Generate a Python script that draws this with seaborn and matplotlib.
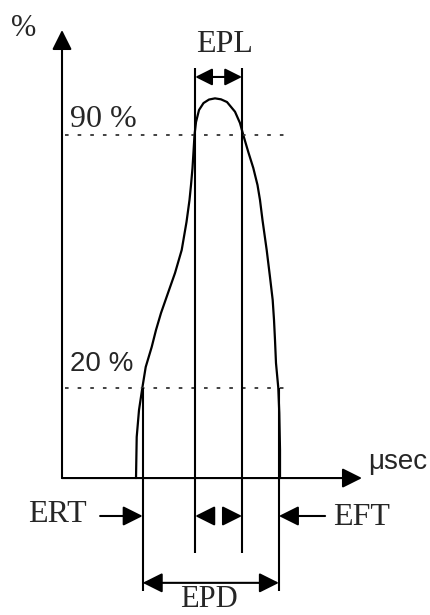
import matplotlib
matplotlib.use("Agg")
import matplotlib.pyplot as plt
import seaborn as sns
import pandas as pd

# pulse shape: time (arbitrary usec units) and amplitude (%)
t_us = [24.67, 24.90, 25.67, 26.77, 27.90, 29.90, 31.33, 33.00, 35.33, 37.67,
        39.90, 41.50, 42.50, 43.00, 43.50, 43.83, 44.17, 44.67, 45.67, 47.17,
        49.00, 51.00, 53.00, 55.00, 57.67, 59.33, 60.43, 62.10, 63.77, 65.17,
        66.00, 66.83, 68.23, 69.33, 70.23, 70.67, 71.00, 71.33, 72.10, 72.43,
        72.67, 72.67]
amp = [-5, 6.36, 13.84, 19.92, 25.73, 31.27, 35.97, 40.67, 46.21, 51.74,
       58.11, 65.86, 71.94, 76.09, 80.80, 85.22, 89.93, 93.52, 96.85, 98.78,
       99.75, 100.08, 99.81, 99.06, 96.38, 93.25, 89.93, 85.22, 80.80, 76.09,
       71.94, 66.41, 58.11, 50.64, 44.27, 38.74, 33.20, 26.84, 19.92, 13.00,
       2.77, -5]

levels = [20, 90]
level_labels = ["20 %", "90 %"]

# threshold crossing times
t20_rise, t90_rise, t90_fall, t20_fall = 26.9, 44.4, 60.0, 72.3

base = -5          # where the time axis sits
t_end = 100        # time axis arrow tip
a_top = 119        # amplitude axis arrow tip

df = pd.DataFrame({"t": t_us, "amp": amp})

sns.set_style("white")
fig = plt.figure(figsize=(4.3, 6.15), dpi=100)
ax = fig.add_axes([0, 0, 1, 1])

lw = 1.5
serif = "Liberation Serif"
sans = "Liberation Sans"
arr = dict(arrowstyle="-|>", mutation_scale=30, lw=lw, color="black",
           shrinkA=0, shrinkB=0)

# axes with arrows
ax.annotate("", xy=(0, a_top), xytext=(0, base), arrowprops=arr)
ax.annotate("", xy=(t_end, base), xytext=(0, base), arrowprops=arr)

# pulse
sns.lineplot(data=df, x="t", y="amp", sort=False, estimator=None, color="black",
             lw=1.6, ax=ax)
ax.set_xlim(-20.67, 122.67)
ax.set_ylim(-42.9, 127.3)
ax.axis("off")

# 20 % and 90 % levels
ax.hlines(levels, 1, 76.7, colors="#333333", linestyles=(0, (2, 5)), lw=1.3)
for lv, lab in zip(levels, level_labels):
    if lv == 90:
        ax.text(2.7, lv + 4.3, lab, fontsize=23, family=serif, va="center", ha="left")
    else:
        ax.text(2.7, lv + 6.5, lab, fontsize=20, family=sans, va="center", ha="left")

# marker lines
ax.vlines([t20_rise, t20_fall], -36.3, 20, colors="black", lw=lw)
ax.vlines([t90_rise, t90_fall], -25.7, 108.5, colors="black", lw=lw)

row = -15.5
# ERT / EFT
ax.annotate("", xy=(t20_rise, row), xytext=(12.7, row), arrowprops=arr)
ax.annotate("", xy=(t20_fall, row), xytext=(87.7, row), arrowprops=arr)
# small heads between EPL lines
ax.annotate("", xy=(t90_rise, row), xytext=(t90_rise + 5.3, row), arrowprops=arr)
ax.annotate("", xy=(t90_fall, row), xytext=(t90_fall - 5.3, row), arrowprops=arr)

# EPL and EPD spans
ax.annotate("", xy=(t90_rise, 106), xytext=(t90_fall, 106),
            arrowprops=dict(arrowstyle="<|-|>", mutation_scale=26, lw=lw, color="black",
                            shrinkA=0, shrinkB=0))
ax.annotate("", xy=(t20_rise, -34), xytext=(t20_fall, -34),
            arrowprops=dict(arrowstyle="<|-|>", mutation_scale=30, lw=lw, color="black",
                            shrinkA=0, shrinkB=0))

ax.text(-12.7, 119.5, "%", fontsize=22, family=serif, ha="center", va="center")
ax.text(54.3, 115.0, "EPL", fontsize=23, family=serif, ha="center", va="center")
ax.text(112, -0.5, "\u03bcsec", fontsize=20, family=sans, ha="center", va="center")
ax.text(-1.7, -15.2, "ERT", fontsize=23, family=serif, ha="center", va="center")
ax.text(100, -15.8, "EFT", fontsize=23, family=serif, ha="center", va="center")
ax.text(49, -42.6, "EPD", fontsize=22, family=serif, ha="center", va="bottom")

fig.savefig("out.png", dpi=100)
